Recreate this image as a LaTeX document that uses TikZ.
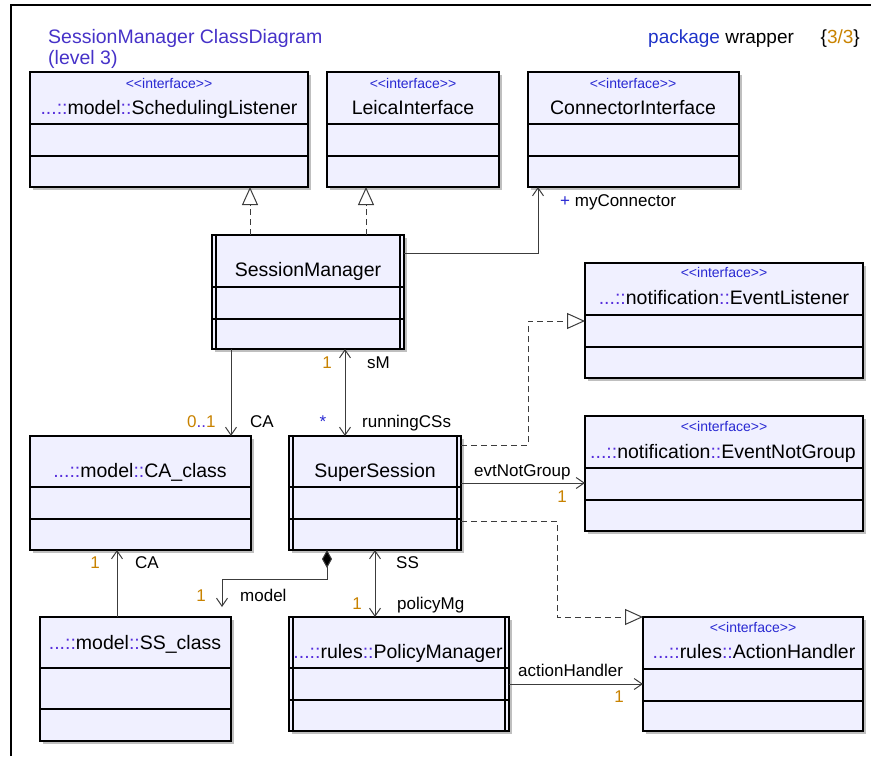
\documentclass[tikz,border=0pt]{standalone}
\usepackage{fontspec}
\setmainfont{Liberation Sans}
\usetikzlibrary{arrows.meta,shadows}
\definecolor{boxfill}{RGB}{240,240,255}
\definecolor{stc}{RGB}{40,40,210}
\definecolor{pfx}{RGB}{85,45,220}
\definecolor{mult}{RGB}{200,130,0}
\definecolor{ttl}{RGB}{70,50,200}
\definecolor{pkg}{RGB}{30,50,200}
\definecolor{lnc}{RGB}{60,60,60}
\newcommand\pf[1]{\textcolor{pfx}{#1}}
\newcommand\stt{<\kern0pt<interface>\kern0pt>}
\newcommand\ubox[7]{%
  \pgfmathsetmacro\bw{#4-#2}\pgfmathsetmacro\bh{#5-#3}%
  \node[cls, minimum width=\bw pt, minimum height=\bh pt] (#1) at (#2,#3) {};
  \draw[cmp] (#1.west |- 0,#6) -- (#1.east |- 0,#6);
  \draw[cmp] (#1.west |- 0,#7) -- (#1.east |- 0,#7);
}
\newcommand\activeb[1]{%
  \draw[cmp] ([xshift=4pt]#1.north west) -- ([xshift=4pt]#1.south west);
  \draw[cmp] ([xshift=-4pt]#1.north east) -- ([xshift=-4pt]#1.south east);
}
\begin{document}
\begin{tikzpicture}[x=1pt,y=-1pt,
  cls/.style={draw=black, line width=1.3pt, fill=boxfill, inner sep=0pt, outer sep=0pt, anchor=north west,
    drop shadow={shadow xshift=2.5pt, shadow yshift=-2.5pt, fill=black, opacity=0.25}},
  cmp/.style={line width=1.2pt},
  nm/.style={anchor=base, inner sep=0pt, font=\fontsize{19.5}{22}\selectfont},
  st/.style={anchor=base, inner sep=0pt, text=stc, font=\fontsize{14}{16}\selectfont},
  lb/.style={anchor=base west, inner sep=0pt, font=\fontsize{17}{20}\selectfont},
  ml/.style={anchor=base, inner sep=0pt, text=mult, font=\fontsize{17}{20}\selectfont},
  assoc/.style={draw=lnc, line width=1pt, -{Straight Barb[length=8pt,width=11pt]}},
  biassoc/.style={draw=lnc, line width=1pt, {Straight Barb[length=8pt,width=11pt]}-{Straight Barb[length=8pt,width=11pt]}},
  realz/.style={draw=lnc, line width=1pt, dash pattern=on 6pt off 4pt, -{Triangle[open, length=18pt, width=16pt, fill=white]}},
  compo/.style={draw=lnc, line width=1pt, {Diamond[length=18pt,width=10pt,fill=black]}-{Straight Barb[length=8pt,width=11pt]}},
]
\useasboundingbox (0,0) rectangle (871,756);
\draw[line width=1.3pt] (11,756) -- (11,5) -- (871,5);

% title
\node[anchor=base west, inner sep=0pt, text=ttl, font=\fontsize{19.5}{22}\selectfont] (t1) at (48,43) {SessionManager ClassDiagram};
\node[anchor=base west, inner sep=0pt, text=ttl, font=\fontsize{19.5}{22}\selectfont] (t2) at (48,64) {(level 3)};
\node[anchor=base west, inner sep=0pt, font=\fontsize{19}{22}\selectfont] (pk) at (648,43) {\textcolor{pkg}{package} wrapper};
\node[anchor=base east, inner sep=0pt, font=\fontsize{19}{22}\selectfont] (pg) at (860,43) {\{\textcolor{mult}{3/3}\}};

% boxes
\ubox{sl}{30}{72}{308}{187}{124}{156}
\ubox{li}{327}{72}{499}{187}{124}{156}
\ubox{ci}{528}{72}{739}{187}{124}{156}
\ubox{sm}{212}{235}{404}{349}{287}{319}
\activeb{sm}
\ubox{el}{585}{263}{863}{378}{315}{347}
\ubox{eng}{585}{416}{863}{531}{468}{500}
\ubox{ca}{30}{436}{251}{550}{487}{519}
\ubox{sup}{289}{436}{461}{550}{487}{519}
\activeb{sup}
\ubox{ssc}{40}{617}{231}{741}{668}{709}
\ubox{pm}{289}{617}{509}{731}{668}{700}
\activeb{pm}
\ubox{ah}{643}{617}{863}{731}{669}{701}

% box texts
\node[st] (slst) at (169,88) {\stt};
\node[nm] (slnm) at (169,114) {\pf{...::}model\pf{::}SchedulingListener};
\node[st] (list) at (413,88) {\stt};
\node[nm] (linm) at (413,114) {LeicaInterface};
\node[st] (cist) at (633,88) {\stt};
\node[nm] (cinm) at (633,114) {ConnectorInterface};
\node[nm] (smnm) at (308,276) {SessionManager};
\node[st] (elst) at (724,277) {\stt};
\node[nm] (elnm) at (724,304) {\pf{...::}notification\pf{::}EventListener};
\node[st] (engst) at (724,431) {\stt};
\node[nm] (engnm) at (723,458) {\pf{...::}notification\pf{::}EventNotGroup};
\node[nm] (canm) at (140,477) {\pf{...::}model\pf{::}CA\_class};
\node[nm] (supnm) at (375,477) {SuperSession};
\node[nm] (sscnm) at (135,649) {\pf{...::}model\pf{::}SS\_class};
\node[nm] (pmnm) at (398,658) {\pf{...::}rules\pf{::}PolicyManager};
\node[st] (ahst) at (753,632) {\stt};
\node[nm] (ahnm) at (754,658) {\pf{...::}rules\pf{::}ActionHandler};

% connectors
\draw[realz] ([xshift=38pt]sm.north west) -- ([xshift=220pt]sl.south west);
\draw[realz] ([xshift=154pt]sm.north west) -- ([xshift=39pt]li.south west);
\draw[assoc] ([yshift=-18pt]sm.north east) -| ([xshift=10pt]ci.south west);
\draw[assoc] ([xshift=19pt]sm.south west) -- ([xshift=201pt]ca.north west);
\draw[biassoc] ([xshift=133pt]sm.south west) -- ([xshift=56pt]sup.north west);
\draw[realz] ([yshift=-9pt]sup.north east) -- ++(67,0) |- ([yshift=-58pt]el.north west);
\draw[assoc] ([yshift=-47pt]sup.north east) -- ([yshift=-67pt]eng.north west);
\draw[realz] ([yshift=-85pt]sup.north east) -- ++(96,0) |- (ah.north west);
\draw[compo] ([xshift=38pt]sup.south west) -- ++(0,29) -| ([xshift=182pt,yshift=10pt]ssc.north west);
\draw[assoc] ([xshift=77pt]ssc.north west) -- ([xshift=87pt]ca.south west);
\draw[biassoc] ([xshift=86pt]sup.south west) -- ([xshift=86pt]pm.north west);
\draw[assoc] ([yshift=-67pt]pm.north east) -- ([yshift=-67pt]ah.north west);

% labels
\node[lb] (lmc) at (560,206) {\textcolor{stc}{+} myConnector};
\node[lb] (lm01) at (187,427) {\textcolor{mult}{0}\textcolor{pfx}{..}\textcolor{mult}{1}};
\node[lb] (lca1) at (250,427) {CA};
\node[ml] (lm1a) at (327,368) {1};
\node[lb] (lsm) at (367,368) {sM};
\node[ml, text=stc] (lst) at (323,427) {*};
\node[lb] (lrun) at (362,427) {runningCSs};
\node[ml] (lm1b) at (95,568) {1};
\node[lb] (lca2) at (135,568) {CA};
\node[lb] (lss) at (396,568) {SS};
\node[ml] (lm1c) at (201,601) {1};
\node[lb] (lmod) at (240,601) {model};
\node[ml] (lm1d) at (357,609) {1};
\node[lb] (lpol) at (397,609) {policyMg};
\node[lb] (levt) at (474,476) {evtNotGroup};
\node[ml] (lm1e) at (562,502) {1};
\node[lb] (lact) at (518,676) {actionHandler};
\node[ml] (lm1f) at (619,702) {1};
\end{tikzpicture}
\end{document}
